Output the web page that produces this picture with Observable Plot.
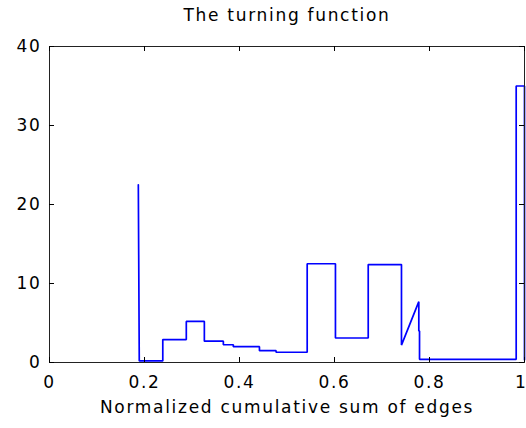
<!DOCTYPE html>
<html>
<head>
<meta charset="utf-8">
<script src="https://cdn.jsdelivr.net/npm/d3@7"></script>
<script src="https://cdn.jsdelivr.net/npm/@observablehq/plot@0.6"></script>
<style>
  html, body { margin: 0; padding: 0; background: #fff; }
  #chart svg { display: block; }
</style>
</head>
<body>
<div id="chart"></div>
<script>
// Turning function: x = normalized cumulative sum of edges, y = turning value
const xValues = [0.187, 0.189, 0.2385, 0.2385, 0.288, 0.288, 0.326, 0.326, 0.366, 0.366,
  0.387, 0.387, 0.442, 0.442, 0.477, 0.477, 0.5425, 0.5425, 0.602, 0.602,
  0.671, 0.671, 0.741, 0.741, 0.7775, 0.7775, 0.779, 0.779, 0.9825, 0.9825, 1.0, 1.0];
const yValues = [22.5, 0.2, 0.2, 2.9, 2.9, 5.2, 5.2, 2.7, 2.7, 2.25,
  2.25, 2.0, 2.0, 1.5, 1.5, 1.3, 1.3, 12.5, 12.5, 3.1,
  3.1, 12.4, 12.4, 2.2, 7.7, 4.0, 4.0, 0.4, 0.4, 35.0, 35.0, 0.35];
const xTicks = [0, 0.2, 0.4, 0.6, 0.8, 1];
const xTickLabels = ["0", "0.2", "0.4", "0.6", "0.8", "1"];
const yTicks = [0, 10, 20, 30, 40];
const yTickLabels = ["0", "10", "20", "30", "40"];
const titleText = "The turning function";
const xLabelText = "Normalized cumulative sum of edges";

const points = xValues.map((x, i) => ({x, y: yValues[i]}));

const W = 526, H = 428;
const mTop = 46, mBottom = 66, mLeft = 49, mRight = 2;
const frameH = H - mTop - mBottom;
const frameW = W - mLeft - mRight;
const tk = 5;
const font = "DejaVu Sans, sans-serif";

const plot = Plot.plot({
  width: W,
  height: H,
  marginTop: mTop,
  marginBottom: mBottom,
  marginLeft: mLeft,
  marginRight: mRight,
  style: {background: "#fff", fontFamily: font, fontSize: "17px", color: "#000"},
  x: {domain: [0, 1], ticks: xTicks},
  y: {domain: [0, 40], ticks: yTicks},
  marks: [
    Plot.line(points, {x: "x", y: "y", stroke: "#0000ff", strokeWidth: 1.7, strokeLinejoin: "miter"}),
    Plot.frame({stroke: "#222", strokeWidth: 1}),
    // inward ticks (bottom / top)
    Plot.tickX(xTicks, {x: d => d, insetTop: frameH - tk, stroke: "#000"}),
    Plot.tickX(xTicks, {x: d => d, insetBottom: frameH - tk, stroke: "#000"}),
    // inward ticks (left / right)
    Plot.tickY(yTicks, {y: d => d, insetRight: frameW - tk, stroke: "#000"}),
    Plot.tickY(yTicks, {y: d => d, insetLeft: frameW - tk, stroke: "#000"}),
    Plot.axisX(xTicks.slice(0, -1), {tickSize: 0, tickPadding: 13, tickFormat: (d, i) => xTickLabels[i], fontSize: 17, fill: "#000", label: null}),
    Plot.text([xTicks[xTicks.length - 1]], {x: d => d, frameAnchor: "bottom", text: () => xTickLabels[xTickLabels.length - 1], textAnchor: "end", dx: 3, dy: 13, lineAnchor: "top", fontSize: 17, fill: "#000"}),
    Plot.axisY(yTicks, {tickSize: 0, tickPadding: 8, tickFormat: (d, i) => yTickLabels[i], fontSize: 17, fill: "#000", label: null}),
    Plot.text([titleText], {text: d => d, frameAnchor: "top", dy: -38, fontSize: 17, fill: "#000"}),
    Plot.text([xLabelText], {text: d => d, frameAnchor: "bottom", dy: 50, fontSize: 17, fill: "#000"})
  ]
});
plot.querySelectorAll("text").forEach(t => t.setAttribute("letter-spacing", "1.7"));
document.getElementById("chart").appendChild(plot);
</script>
</body>
</html>
